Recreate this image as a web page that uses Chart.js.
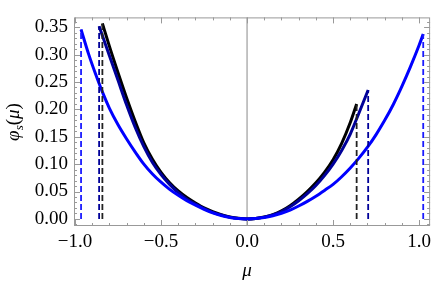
<!DOCTYPE html>
<html>
<head>
<meta charset="utf-8">
<script src="https://cdn.jsdelivr.net/npm/chart.js@4.4.1/dist/chart.umd.min.js"></script>
<style>
  html, body { margin: 0; padding: 0; background: #fff; }
</style>
</head>
<body>
<canvas id="chart" width="436" height="282"></canvas>
<script>
// tick labels
const xTicks = [-1.0, -0.5, 0.0, 0.5, 1.0];
const yTicks = [0.00, 0.05, 0.10, 0.15, 0.20, 0.25, 0.30, 0.35];

// wide blue curve
const blueMu  = [-0.965, -0.92, -0.88, -0.84, -0.80, -0.75, -0.70, -0.65, -0.60, -0.55, -0.50, -0.45, -0.40, -0.35,
                 -0.30, -0.25, -0.20, -0.15, -0.10, -0.05, 0.0, 0.05, 0.10, 0.15, 0.20, 0.25, 0.30, 0.35, 0.40,
                 0.45, 0.50, 0.55, 0.60, 0.65, 0.70, 0.75, 0.80, 0.85, 0.90, 0.95, 1.00, 1.024];
const blueVal = [0.346, 0.300, 0.264, 0.231, 0.202, 0.172, 0.146, 0.122, 0.100, 0.082, 0.067, 0.054, 0.043, 0.033,
                 0.025, 0.0175, 0.011, 0.006, 0.0027, 0.0007, 0.0, 0.0006, 0.0025, 0.0058, 0.0103, 0.016, 0.0235,
                 0.032, 0.0415, 0.052, 0.063, 0.077, 0.093, 0.111, 0.131, 0.154, 0.180, 0.209, 0.242, 0.278,
                 0.317, 0.3375];

// dark blue curve
const navyMu  = [-0.86, -0.80, -0.75, -0.70, -0.65, -0.60, -0.55, -0.50, -0.45, -0.40, -0.35, -0.30, -0.25, -0.20,
                 -0.15, -0.10, -0.05, 0.0, 0.05, 0.10, 0.15, 0.20, 0.25, 0.30, 0.35, 0.40, 0.45, 0.50, 0.55,
                 0.60, 0.65, 0.704];
const navyVal = [0.352, 0.298, 0.253, 0.208, 0.167, 0.132, 0.103, 0.081, 0.063, 0.048, 0.036, 0.027, 0.019, 0.012,
                 0.007, 0.0032, 0.0008, 0.0, 0.0008, 0.0032, 0.0072, 0.0135, 0.022, 0.033, 0.046, 0.061, 0.079,
                 0.100, 0.125, 0.155, 0.193, 0.2354];

// black curve
const blackMu  = [-0.841, -0.80, -0.75, -0.70, -0.65, -0.60, -0.55, -0.50, -0.45, -0.40, -0.35, -0.30, -0.25,
                  -0.20, -0.15, -0.10, -0.05, 0.0, 0.05, 0.10, 0.15, 0.20, 0.25, 0.30, 0.35, 0.40, 0.45, 0.50,
                  0.55, 0.60, 0.637];
const blackVal = [0.357, 0.315, 0.267, 0.221, 0.178, 0.139, 0.109, 0.085, 0.066, 0.051, 0.039, 0.029, 0.020,
                  0.013, 0.0075, 0.0035, 0.001, 0.0, 0.0009, 0.0035, 0.0078, 0.0145, 0.024, 0.036, 0.050, 0.066,
                  0.085, 0.108, 0.138, 0.176, 0.210];

const FONT = '"Liberation Serif", "Times New Roman", serif';

function pts(mu, val) {
  return mu.map((m, i) => ({ x: m, y: val[i] }));
}

// dashed drop lines at both ends of a curve
function drops(mu, val, color) {
  const last = mu.length - 1;
  return [0, last].map(i => ({
    data: [{ x: mu[i], y: 0 }, { x: mu[i], y: val[i] }],
    borderColor: color,
    borderWidth: 1.8,
    borderDash: [6, 3],
    pointRadius: 0,
    showLine: true,
    tension: 0
  }));
}

function curve(mu, val, color) {
  return {
    data: pts(mu, val),
    borderColor: color,
    borderWidth: 3,
    pointRadius: 0,
    showLine: true,
    cubicInterpolationMode: 'monotone'
  };
}

// frame, inside ticks, zero line and axis titles (Mathematica style)
const framePlugin = {
  id: 'frame',
  beforeDatasetsDraw(chart) {
    const { ctx, chartArea: a, scales: { x } } = chart;
    const x0 = x.getPixelForValue(0);
    ctx.save();
    ctx.strokeStyle = '#b0b0b0';
    ctx.lineWidth = 1.5;
    ctx.beginPath();
    ctx.moveTo(x0, a.top);
    ctx.lineTo(x0, a.bottom);
    ctx.stroke();
    ctx.restore();
  },
  afterDraw(chart) {
    const { ctx, chartArea: a, scales: { x, y } } = chart;
    ctx.save();
    ctx.strokeStyle = '#999';
    ctx.lineWidth = 1;
    ctx.strokeRect(a.left + 0.5, a.top + 0.5, a.right - a.left - 1, a.bottom - a.top - 1);
    ctx.beginPath();
    // x ticks every 0.1, long ones every 0.5
    for (let k = -10; k <= 10; k++) {
      const px = Math.round(x.getPixelForValue(k / 10)) + 0.5;
      if (px < a.left || px > a.right) continue;
      const len = k % 5 === 0 ? 6 : 3;
      ctx.moveTo(px, a.bottom); ctx.lineTo(px, a.bottom - len);
      ctx.moveTo(px, a.top); ctx.lineTo(px, a.top + len);
    }
    // y ticks every 0.01, long ones every 0.05
    for (let k = -1; k <= 36; k++) {
      const py = Math.round(y.getPixelForValue(k / 100)) + 0.5;
      if (py < a.top || py > a.bottom) continue;
      const len = k % 5 === 0 ? 6 : 3;
      ctx.moveTo(a.left, py); ctx.lineTo(a.left + len, py);
      ctx.moveTo(a.right, py); ctx.lineTo(a.right - len, py);
    }
    ctx.stroke();

    // x title
    ctx.fillStyle = '#000';
    ctx.textBaseline = 'alphabetic';
    ctx.textAlign = 'center';
    ctx.font = 'italic 19px ' + FONT;
    ctx.fillText('μ', x.getPixelForValue(0), 276);

    // y title: φ_s(μ)
    const parts = [
      { t: 'φ', f: 'italic 19px ' + FONT, dy: 0 },
      { t: 's', f: 'italic 13px ' + FONT, dy: 4 },
      { t: '(', f: '19px ' + FONT, dy: 0 },
      { t: 'μ', f: 'italic 19px ' + FONT, dy: 0 },
      { t: ')', f: '19px ' + FONT, dy: 0 }
    ];
    let w = 0;
    parts.forEach(p => { ctx.font = p.f; p.w = ctx.measureText(p.t).width; w += p.w; });
    ctx.translate(19, 122);
    ctx.rotate(-Math.PI / 2);
    ctx.textAlign = 'left';
    let cx = -w / 2;
    parts.forEach(p => { ctx.font = p.f; ctx.fillText(p.t, cx, p.dy); cx += p.w; });
    ctx.restore();
  }
};

const ctx = document.getElementById('chart').getContext('2d');

new Chart(ctx, {
  type: 'scatter',
  data: {
    datasets: [
      ...drops(blueMu, blueVal, '#1a1aff'),
      ...drops(navyMu, navyVal, '#000099'),
      ...drops(blackMu, blackVal, '#222'),
      curve(blueMu, blueVal, '#0000ff'),
      curve(navyMu, navyVal, '#000099'),
      curve(blackMu, blackVal, '#000000')
    ]
  },
  options: {
    responsive: false,
    animation: false,
    layout: { padding: { top: 2, right: 1, left: 0, bottom: 0 } },
    plugins: { legend: { display: false }, tooltip: { enabled: false } },
    scales: {
      x: {
        type: 'linear',
        min: -1.006,
        max: 1.064,
        grid: { display: false, drawTicks: false },
        border: { display: false },
        afterBuildTicks: s => { s.ticks = xTicks.map(v => ({ value: v })); },
        afterFit: s => { s.height = 56; },
        ticks: {
          autoSkip: false,
          maxRotation: 0,
          padding: 5,
          color: '#000',
          font: { family: FONT, size: 19 },
          callback: v => v.toFixed(1).replace('-', '\u2212')
        }
      },
      y: {
        type: 'linear',
        min: -0.013,
        max: 0.368,
        grid: { display: false, drawTicks: false },
        border: { display: false },
        afterBuildTicks: s => { s.ticks = yTicks.map(v => ({ value: v })); },
        afterFit: s => { s.width = 74; },
        ticks: {
          autoSkip: false,
          padding: 6,
          color: '#000',
          font: { family: FONT, size: 19 },
          callback: v => v.toFixed(2)
        }
      }
    }
  },
  plugins: [framePlugin]
});
</script>
</body>
</html>
